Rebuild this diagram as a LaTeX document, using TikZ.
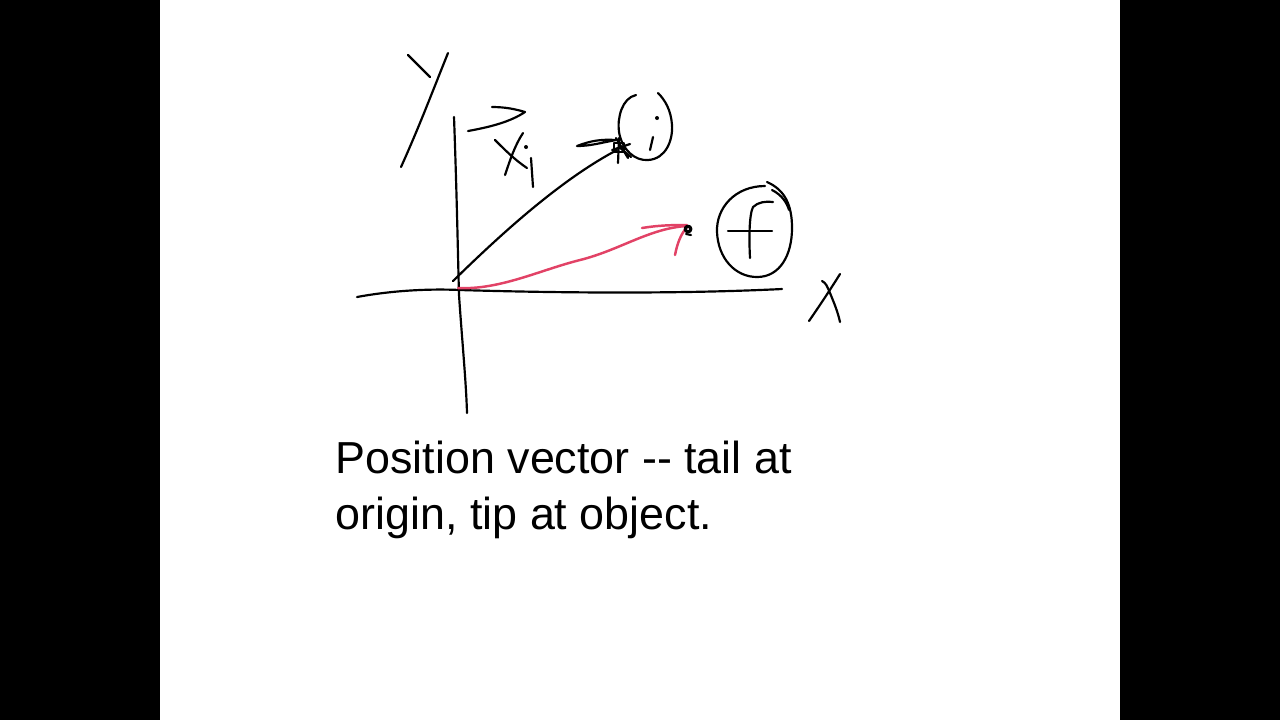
\documentclass[tikz,border=0pt]{standalone}
\usepackage{fontspec}
\setmainfont{Liberation Sans}
\definecolor{penred}{RGB}{226,66,102}
\tikzset{
  pen/.style={line width=0.62pt, line cap=round, line join=round},
  redpen/.style={pen, draw=penred, line width=0.7pt},
  caption/.style={anchor=base west, inner sep=0pt, font=\fontsize{12.75pt}{15pt}\selectfont}
}
\begin{document}
\begin{tikzpicture}[x=0.01cm,y=-0.01cm]
\useasboundingbox (0,0) rectangle (1280,720);
\fill[black] (0,0) rectangle (1280,720);
\fill[white] (160,0) rectangle (1120,720);

% axes
\draw[pen] (357,297) .. controls (400,289) and (440,289) .. (460,290) .. controls (560,293) and (680,294) .. (782,289);
\draw[pen] (454,117) .. controls (457,200) and (458,260) .. (459,295) .. controls (462,340) and (466,380) .. (467,413);

% Y label
\draw[pen] (408,55) -- (430,77);
\draw[pen] (448,53) .. controls (435,85) and (420,125) .. (401,167);

% arrow mark over x_i
\draw[pen] (492,107) .. controls (505,107) and (515,109) .. (525,112) .. controls (510,122) and (490,127) .. (468,131);
% x_i
\draw[pen] (495,140) .. controls (505,150) and (515,160) .. (527,168);
\draw[pen] (523,133) .. controls (515,145) and (510,160) .. (505,175);
\fill (526,147) circle (2);
\draw[pen] (531,158) -- (533,187);

% black position vector to i
\coordinate (o1) at (453,281);
\coordinate (tipi) at (617,150);
\draw[pen] (o1) .. controls (500,235) and (560,180) .. (tipi);
\draw[pen] (577,146) .. controls (590,141) and (600,139) .. (616,140) .. controls (600,143) and (590,146) .. (577,146);
\draw[pen] (614,143) rectangle (624,152);
\draw[pen] (616,138) -- (628,158) (612,150) -- (630,144) (619,147) -- (631,157);
\draw[pen] (619,138) -- (618,163);

% circle i
\draw[pen] (636,95) .. controls (622,98) and (617,118) .. (619,132) .. controls (622,150) and (635,161) .. (648,160) .. controls (666,159) and (673,140) .. (672,125) .. controls (671,110) and (665,100) .. (658,93);
\fill (657,118) circle (2);
\draw[pen] (653,137) -- (650,150);

% red position vector to f
\coordinate (o2) at (458,288);
\coordinate (tipf) at (687,226);
\draw[redpen] (o2) .. controls (500,290) and (540,270) .. (580,260) .. controls (620,250) and (650,228) .. (tipf);
\draw[redpen] (642,228) .. controls (660,225) and (675,225) .. (687,225);
\draw[redpen] (687,227) .. controls (680,235) and (677,245) .. (675,255);
\draw[pen, line width=0.9pt] (688,229) circle (2.8);
\draw[pen, line width=0.6pt] (686,234) -- (691,235);

% circle f
\draw[pen] (765,186) .. controls (735,186) and (716,208) .. (717,232) .. controls (718,258) and (735,277) .. (757,277) .. controls (780,277) and (792,255) .. (792,228) .. controls (792,205) and (785,190) .. (767,182);
\draw[pen] (772,190) .. controls (782,195) and (787,203) .. (789,210);
\draw[pen] (728,231) -- (772,231);
\draw[pen] (750,258) .. controls (749,240) and (749,215) .. (753,207) .. controls (758,202) and (766,201) .. (773,202);

% X label
\draw[pen] (840,274) .. controls (830,290) and (820,305) .. (809,321);
\draw[pen] (822,281) .. controls (826,283) and (827,286) .. (830,293) .. controls (835,305) and (838,313) .. (840,322);

% caption
\node[caption] (cap1) at (335,473) {Position vector -{}- tail at};
\node[caption] (cap2) at (335,529) {origin, tip at object.};
\end{tikzpicture}
\end{document}
